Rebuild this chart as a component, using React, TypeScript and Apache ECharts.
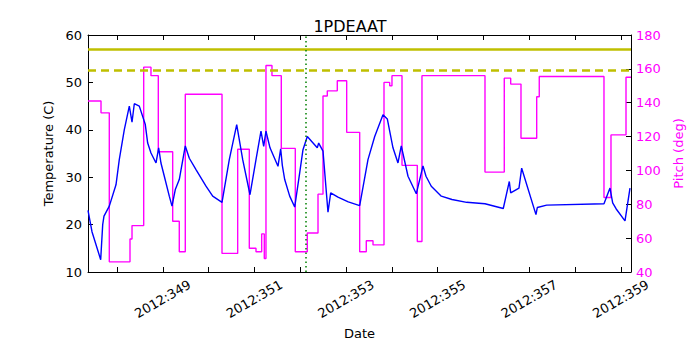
import React, { useEffect, useRef } from "react";
import * as echarts from "echarts";

const titleText = "1PDEAAT";

// Day of year 2012 (fractional) for the temperature trace
const tempDays = [
  347.367, 347.454, 347.644, 347.688, 347.716, 347.832, 347.978, 348.05, 348.159, 348.269,
  348.328, 348.378, 348.487, 348.618, 348.67, 348.742, 348.852, 348.91, 348.96, 349.033,
  349.142, 349.201, 349.273, 349.36, 349.491, 349.579, 349.725, 349.943, 350.09, 350.293,
  350.452, 350.614, 350.745, 350.904, 351.035, 351.144, 351.203, 351.253, 351.341, 351.515,
  351.574, 351.61, 351.662, 351.771, 351.88, 351.989, 352.061, 352.155, 352.373, 352.404,
  352.498, 352.607, 352.666, 352.825, 353.05, 353.299, 353.48, 353.627, 353.808, 353.902,
  354.026, 354.135, 354.207, 354.354, 354.535, 354.681, 354.747, 354.862, 355.081, 355.314,
  355.635, 356.035, 356.434, 356.566, 356.596, 356.777, 356.836, 357.148, 357.177, 357.382,
  358.633, 358.764, 358.823, 358.9, 359.092, 359.201,
];
const tempValues = [
  23, 18.5, 12.6, 20, 21.8, 23.9, 28.4, 33.7, 40, 45,
  41.6, 45.5, 45, 41.1, 37.2, 35.1, 33, 36.2, 33, 30.2,
  26, 23.9, 27.4, 29.5, 36.6, 34, 31.6, 28.1, 26, 24.7,
  33.7, 41.1, 33.7, 26.3, 33.7, 39.7, 36.5, 39.7, 36.2, 32.3,
  36, 32.5, 29.5, 26, 23.7, 30.9, 35.8, 38.6, 36.2, 37.2,
  35.5, 22.6, 26.7, 25.8, 24.8, 24, 33.7, 38.6, 43.2, 42.3,
  36.2, 33, 36.6, 30.2, 26.5, 32.4, 30.2, 28.1, 26, 25.3,
  24.7, 24.4, 23.4, 29.1, 26.7, 27.7, 31.9, 22.1, 23.6, 24.1,
  24.4, 27.7, 24.6, 23.3, 20.8, 27.7,
];

// Pitch trace (step, value holds until the next change)
const pitchDays = [
  347.367, 347.651, 347.832, 348.284, 348.328, 348.583, 348.742, 348.902, 349.216, 349.36,
  349.491, 350.293, 350.635, 350.889, 351.035, 351.159, 351.216, 351.253, 351.384, 351.587,
  351.893, 352.155, 352.389, 352.498, 352.592, 352.81, 353.015, 353.299, 353.443, 353.59,
  353.83, 353.954, 354.004, 354.223, 354.557, 354.659, 356.035, 356.456, 356.596, 356.821,
  357.164, 357.22, 358.633, 358.786, 359.114, 359.223,
];
const pitchValues = [
  141, 134, 46, 59.5, 67.4, 161, 156, 111, 70, 52,
  145, 51, 112.5, 54, 52, 62.5, 48, 162, 156, 113,
  52, 63, 86, 144, 147, 153, 122.5, 52, 58.5, 56,
  152, 150, 156, 103, 58, 156, 99, 154.5, 151, 119,
  143.5, 155.5, 84, 121, 155, 155,
];

const xMin = 347.367;
const xMax = 359.223;
const dayTicks = [348, 349, 350, 351, 352, 353, 354, 355, 356, 357, 358, 359];
const dayLabels = [349, 351, 353, 355, 357, 359];
const planningLimit = 57;
const cautionLimit = 52.5;
const markerDay = 352.13;

const FONT = "DejaVu Sans";

export default function App() {
  const ref = useRef<HTMLDivElement>(null);
  useEffect(() => {
    if (!ref.current) return;
    const chart = echarts.init(ref.current, null, { renderer: "svg" });
    const tempData = tempDays.map((d, i) => [d, tempValues[i]]);
    const pitchData = pitchDays.map((d, i) => [d, pitchValues[i]]);
    const tickStyle = { show: true, inside: true, length: 5, lineStyle: { color: "#000", width: 1 } };
    chart.setOption({
      animation: false,
      backgroundColor: "#fff",
      title: {
        text: titleText,
        left: "center",
        top: 13,
        textStyle: { fontFamily: FONT, fontSize: 16, fontWeight: "normal", color: "#000" },
      },
      grid: { left: 88, right: 69, top: 35, bottom: 78 },
      xAxis: [
        {
          type: "value",
          min: xMin,
          max: xMax,
          name: "Date",
          nameLocation: "middle",
          nameGap: 50,
          nameTextStyle: { fontFamily: FONT, fontSize: 13, color: "#000" },
          axisLine: { show: true, onZero: false, lineStyle: { color: "#000", width: 1 } },
          axisTick: { ...tickStyle, customValues: dayTicks },
          axisLabel: {
            customValues: dayLabels,
            formatter: (v: number) => "2012:" + Math.round(v),
            rotate: 30,
            align: "center",
            verticalAlign: "middle",
            margin: 27,
            fontFamily: FONT,
            fontSize: 13,
            color: "#000",
          },
          splitLine: { show: false },
        },
        {
          type: "value",
          position: "top",
          min: xMin,
          max: xMax,
          axisLine: { show: true, onZero: false, lineStyle: { color: "#000", width: 1 } },
          axisTick: { ...tickStyle, customValues: dayTicks },
          axisLabel: { show: false },
          splitLine: { show: false },
        },
      ],
      yAxis: [
        {
          type: "value",
          min: 10,
          max: 60,
          interval: 10,
          name: "Temperature (C)",
          nameLocation: "middle",
          nameGap: 32,
          nameTextStyle: { fontFamily: FONT, fontSize: 13, color: "#000" },
          axisLine: { show: true, lineStyle: { color: "#000", width: 1 } },
          axisTick: tickStyle,
          axisLabel: { fontFamily: FONT, fontSize: 13, color: "#000", margin: 6 },
          splitLine: { show: false },
        },
        {
          type: "value",
          min: 40,
          max: 180,
          interval: 20,
          position: "right",
          name: "Pitch (deg)",
          nameLocation: "middle",
          nameGap: 35,
          nameTextStyle: { fontFamily: FONT, fontSize: 13, color: "#ff00ff" },
          axisLine: { show: true, lineStyle: { color: "#000", width: 1 } },
          axisTick: tickStyle,
          axisLabel: { fontFamily: FONT, fontSize: 13, color: "#ff00ff", margin: 5 },
          splitLine: { show: false },
        },
      ],
      series: [
        {
          type: "line",
          data: pitchData,
          yAxisIndex: 1,
          step: "end",
          showSymbol: false,
          lineStyle: { color: "#ff00ff", width: 1.4 },
          itemStyle: { color: "#ff00ff" },
          z: 2,
        },
        {
          type: "line",
          data: tempData,
          yAxisIndex: 0,
          showSymbol: false,
          lineStyle: { color: "#0000ff", width: 1.4 },
          itemStyle: { color: "#0000ff" },
          z: 3,
          markLine: {
            silent: true,
            symbol: "none",
            label: { show: false },
            data: [
              { yAxis: planningLimit, lineStyle: { color: "#bfbf00", width: 2.5, type: "solid" } },
              { yAxis: cautionLimit, lineStyle: { color: "#bfbf00", width: 2.5, type: [8, 5] } },
              { xAxis: markerDay, lineStyle: { color: "#008000", width: 1.5, type: [1.5, 3] } },
            ],
          },
        },
      ],
    });
    return () => chart.dispose();
  }, []);
  return (
    <div
      ref={ref}
      style={{ position: "fixed", left: 0, top: 0, width: 700, height: 350, background: "#fff" }}
    />
  );
}
